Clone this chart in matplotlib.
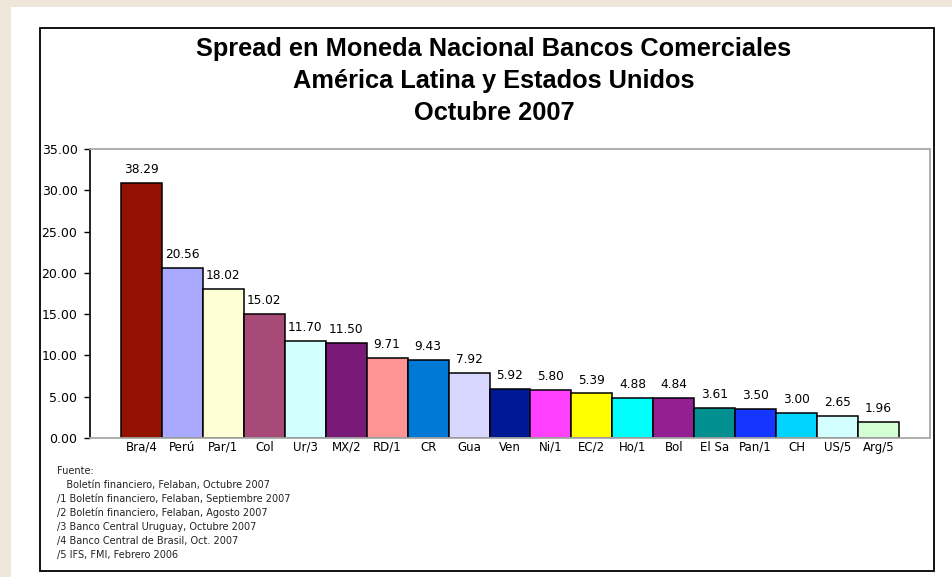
import matplotlib.pyplot as plt
from matplotlib.patches import Rectangle

# data
categories = ['Bra/4', 'Perú', 'Par/1', 'Col', 'Ur/3', 'MX/2', 'RD/1', 'CR', 'Gua', 'Ven',
              'Ni/1', 'EC/2', 'Ho/1', 'Bol', 'El Sa', 'Pan/1', 'CH', 'US/5', 'Arg/5']
spread = [38.29, 20.56, 18.02, 15.02, 11.70, 11.50, 9.71, 9.43, 7.92, 5.92,
          5.80, 5.39, 4.88, 4.84, 3.61, 3.50, 3.00, 2.65, 1.96]
# the reference draws the Brazil bar cut short at about 30.9
bar_heights = [30.9] + spread[1:]
colors = ['#931100', '#a9a9ff', '#ffffd5', '#a84a78', '#d4ffff', '#7a1a78', '#ff9494',
          '#0078d6', '#d6d6ff', '#001893', '#ff40ff', '#ffff00', '#00ffff', '#932093',
          '#009090', '#1436ff', '#00d4ff', '#d4ffff', '#d4ffd4']
yticks = [0, 5, 10, 15, 20, 25, 30, 35]
title = 'Spread en Moneda Nacional Bancos Comerciales\nAmérica Latina y Estados Unidos\nOctubre 2007'
notes = ['Fuente:',
         '   Boletín financiero, Felaban, Octubre 2007',
         '/1 Boletín financiero, Felaban, Septiembre 2007',
         '/2 Boletín financiero, Felaban, Agosto 2007',
         '/3 Banco Central Uruguay, Octubre 2007',
         '/4 Banco Central de Brasil, Oct. 2007',
         '/5 IFS, FMI, Febrero 2006']

W, H = 953, 577
fig = plt.figure(figsize=(W / 100, H / 100), dpi=100)
fig.patch.set_facecolor('#efe8da')

# white panel and black chart frame (behind the axes)
fig.patches.append(Rectangle((11 / W, 0), 1, 1 - 7 / H, transform=fig.transFigure,
                             facecolor='white', edgecolor='none', zorder=-2))
fig.patches.append(Rectangle((40 / W, 6 / H), 894 / W, 543 / H, transform=fig.transFigure,
                             facecolor='none', edgecolor='black', linewidth=1.3, zorder=-1))

ax = fig.add_axes([90 / W, (H - 438) / H, 840 / W, 289 / H])
ax.set_facecolor('none')
x = list(range(len(categories)))
ax.bar(x, bar_heights, width=1.0, color=colors, edgecolor='black', linewidth=1.1, zorder=2)

for xi, h, v in zip(x, bar_heights, spread):
    ax.annotate(f'{v:.2f}', (xi, h), xytext=(0, 5), textcoords='offset points',
                ha='center', va='bottom', fontsize=8.7, family='DejaVu Sans')

ax.set_xlim(-1.256, len(categories) - 1 + 1.256)
ax.set_ylim(0, 35)
ax.set_yticks(yticks)
ax.set_yticklabels([f'{t:.2f}' for t in yticks], fontsize=9)
ax.set_xticks(x)
ax.set_xticklabels(categories, fontsize=8.5)
ax.tick_params(axis='x', length=0, pad=2)
ax.tick_params(axis='y', length=4, width=1, direction='out', pad=5)

for s in ['top', 'right', 'bottom']:
    ax.spines[s].set_color('#a8a8a8')
    ax.spines[s].set_linewidth(1.3)
ax.spines['left'].set_color('black')
ax.spines['left'].set_linewidth(1.2)

fig.text(494 / W, 1 - 81 / H, title, ha='center', va='center', fontsize=18.3,
         fontweight='bold', family='Liberation Sans', linespacing=1.44)

for i, line in enumerate(notes):
    fig.text(57 / W, 1 - (471 + i * 14) / H, line, ha='left', va='center',
             fontsize=7, family='DejaVu Sans', color='#222222')

fig.savefig('out.png', dpi=100, facecolor=fig.get_facecolor())
